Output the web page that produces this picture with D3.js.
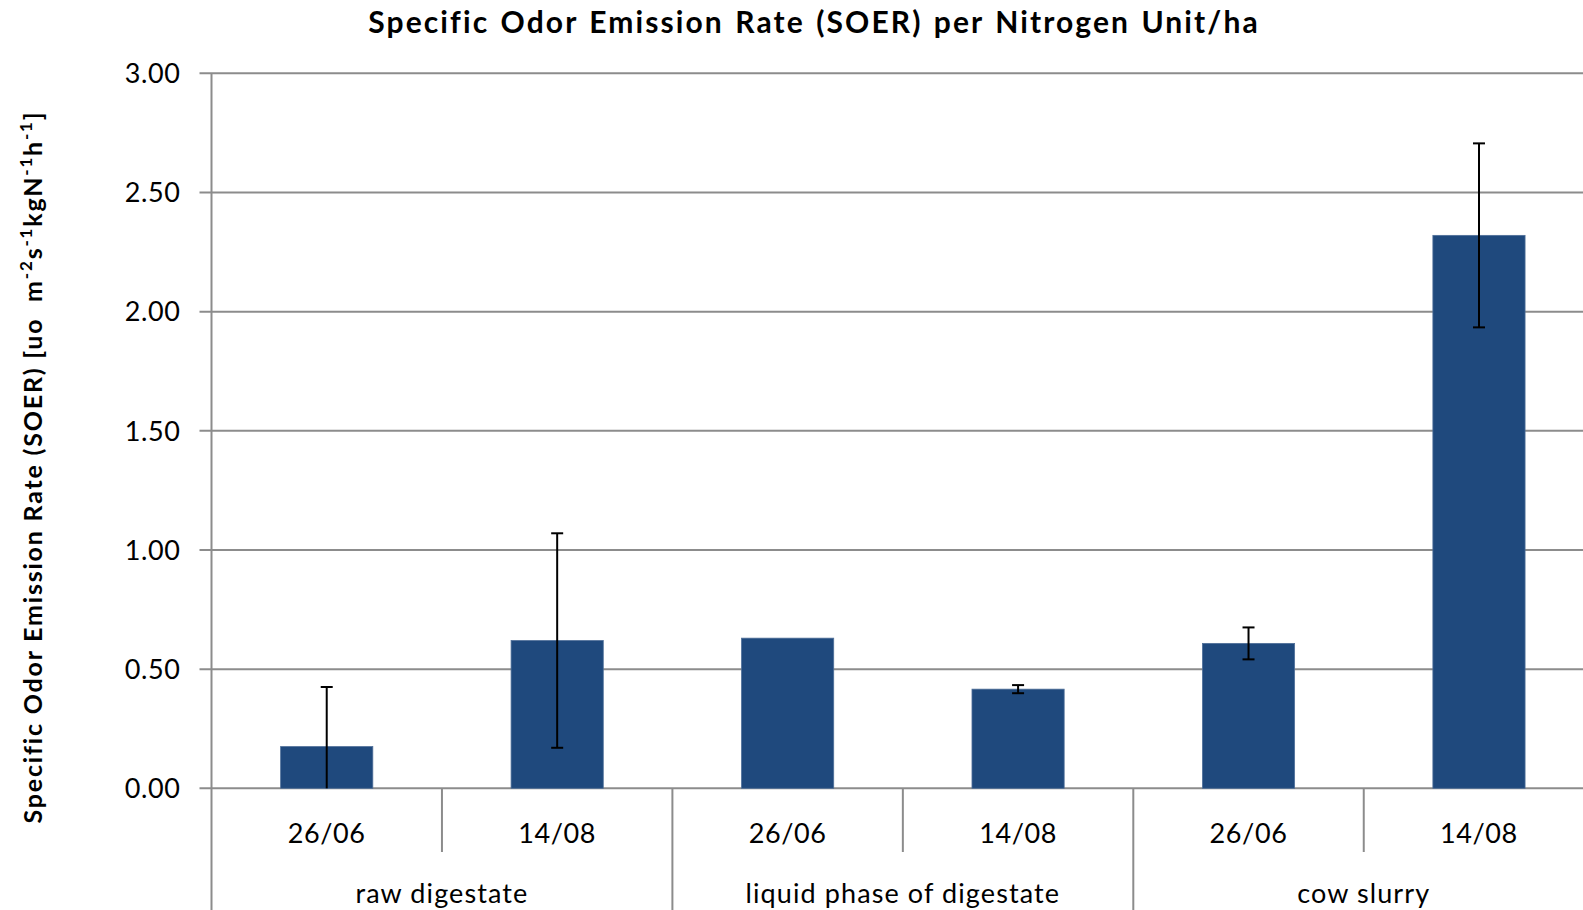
<!DOCTYPE html>
<html>
<head>
<meta charset="utf-8">
<script src="https://cdn.jsdelivr.net/npm/d3@7"></script>
<style>
  html, body { margin: 0; padding: 0; background: #fff; }
  svg { display: block; }
  text { font-family: Lato, "Open Sans", sans-serif; fill: #000; }
</style>
</head>
<body>
<svg id="chart" width="1583" height="910"></svg>
<script>
// Measurement dates, one bar each, nested under three materials
const dates = ["26/06", "14/08", "26/06", "14/08", "26/06", "14/08"];
const groups = ["raw digestate", "liquid phase of digestate", "cow slurry"];
// SOER mean values and standard deviations
const soer = [0.175, 0.62, 0.63, 0.416, 0.608, 2.32];
const soerErr = [0.25, 0.45, 0, 0.017, 0.067, 0.386];
const yTicks = [0, 0.5, 1, 1.5, 2, 2.5, 3];

const svg = d3.select("#chart");
const W = 1583, H = 910;
const plotLeft = 211.5, plotTop = 73.3, zeroY = 788.3;
const step = 230.45;
const plotRight = plotLeft + dates.length * step;

const idx = dates.map((d, i) => i);
const x = d3.scaleBand().domain(idx).range([plotLeft, plotRight]).paddingInner(0.6).paddingOuter(0.3);
const y = d3.scaleLinear().domain([0, 3]).range([zeroY, plotTop]);

const grey = "#8c8c8c";

// Horizontal gridlines with short ticks left of the axis
svg.append("g").selectAll("line").data(yTicks).join("line")
  .attr("x1", plotLeft - 12).attr("x2", W)
  .attr("y1", d => y(d)).attr("y2", d => y(d))
  .attr("stroke", grey).attr("stroke-width", 2);

// Y tick labels
svg.append("g").selectAll("text").data(yTicks).join("text")
  .attr("x", plotLeft - 31).attr("y", d => y(d))
  .attr("dy", "0.36em")
  .attr("text-anchor", "end")
  .attr("font-size", 27)
  .attr("letter-spacing", 0.6)
  .text(d => d3.format(".2f")(d));

// Vertical axis line
svg.append("line")
  .attr("x1", plotLeft).attr("x2", plotLeft)
  .attr("y1", plotTop).attr("y2", H)
  .attr("stroke", grey).attr("stroke-width", 2);

// Bars
svg.append("g").selectAll("rect").data(soer).join("rect")
  .attr("x", (d, i) => x(i))
  .attr("width", x.bandwidth())
  .attr("y", d => y(d))
  .attr("height", d => y(0) - y(d))
  .attr("fill", "#1f497d")
  .attr("stroke", "#4f6f99").attr("stroke-width", 0.8);

// Error bars (clipped at zero; caps drawn only where the end is inside the plot)
const eb = svg.append("g").attr("stroke", "#000").attr("stroke-width", 2);
soer.forEach((v, i) => {
  const e = soerErr[i];
  if (!e) return;
  const cx = x(i) + x.bandwidth() / 2;
  const hi = v + e, lo = Math.max(0, v - e);
  eb.append("line").attr("x1", cx).attr("x2", cx).attr("y1", y(hi)).attr("y2", y(lo));
  eb.append("line").attr("x1", cx - 6).attr("x2", cx + 6).attr("y1", y(hi)).attr("y2", y(hi));
  if (v - e >= 0) {
    eb.append("line").attr("x1", cx - 6).attr("x2", cx + 6).attr("y1", y(lo)).attr("y2", y(lo));
  }
});

// Category separators: short between dates, full height between materials
const sep = svg.append("g").attr("stroke", grey).attr("stroke-width", 2);
for (let k = 1; k <= dates.length; k++) {
  const sx = plotLeft + k * step;
  const full = k % 2 === 0;
  sep.append("line").attr("x1", sx).attr("x2", sx)
    .attr("y1", zeroY).attr("y2", full ? H : 852);
}

// Date labels
svg.append("g").selectAll("text").data(dates).join("text")
  .attr("x", (d, i) => x(i) + x.bandwidth() / 2)
  .attr("y", 843)
  .attr("text-anchor", "middle")
  .attr("font-size", 27)
  .attr("letter-spacing", 0.6)
  .text(d => d);

// Material labels
svg.append("g").selectAll("text").data(groups).join("text")
  .attr("x", (d, i) => plotLeft + (2 * i + 1) * step)
  .attr("y", 903)
  .attr("text-anchor", "middle")
  .attr("font-size", 27)
  .attr("letter-spacing", 1.1)
  .text(d => d);

// Title
svg.append("text")
  .attr("x", 814).attr("y", 33)
  .attr("text-anchor", "middle")
  .attr("font-size", 30).attr("font-weight", "bold")
  .attr("letter-spacing", 2.1).attr("word-spacing", 2)
  .text("Specific Odor Emission Rate (SOER) per Nitrogen Unit/ha");

// Y axis title with superscript exponents
const yt = svg.append("text")
  .attr("transform", "translate(42,467) rotate(-90)")
  .attr("text-anchor", "middle")
  .attr("font-size", 25).attr("font-weight", "bold")
  .attr("letter-spacing", 1.8)
  .attr("xml:space", "preserve");
const parts = [
  ["Specific Odor Emission Rate (SOER) [uo\u00a0 m", false],
  ["-2", true], ["s", false], ["-1", true], ["kgN", false], ["-1", true], ["h", false], ["-1", true], ["]", false]
];
parts.forEach(([t, sup]) => {
  const ts = yt.append("tspan").text(t);
  if (sup) ts.attr("font-size", 17).attr("baseline-shift", "super");
});
</script>
</body>
</html>
